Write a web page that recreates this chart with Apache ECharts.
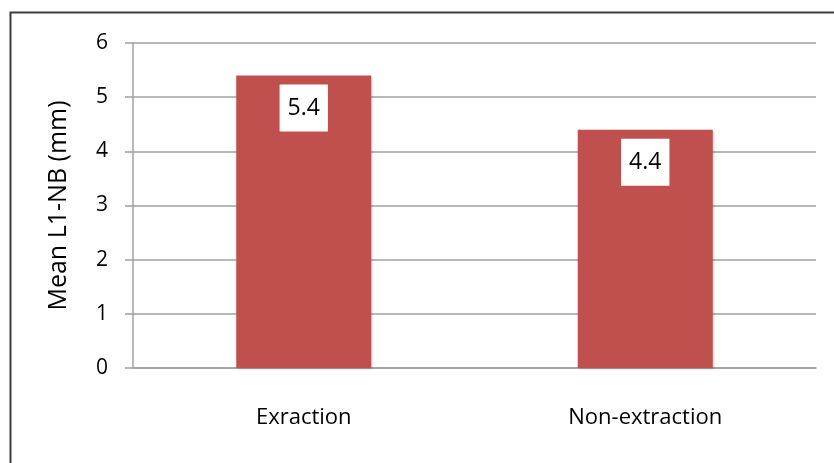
<!DOCTYPE html>
<html>
<head>
<meta charset="utf-8">
<script src="https://cdn.jsdelivr.net/npm/echarts@6/dist/echarts.min.js"></script>
<style>
  html, body { margin: 0; padding: 0; background: #fff; }
  #chart { width: 834px; height: 463px; }
</style>
</head>
<body>
<div id="chart"></div>
<script>
// data
var categories = ["Exraction", "Non-extraction"];
var meanValues = [5.4, 4.4];
var yTicks = [0, 1, 2, 3, 4, 5, 6];

var gridColor = "#a0a0a0";
var fontName = "Open Sans";

var chart = echarts.init(document.getElementById("chart"), null, { renderer: "canvas" });

var option = {
  animation: false,
  backgroundColor: "#fff",
  grid: {
    left: 133,
    right: 18,
    top: 43,
    bottom: 95,
    containLabel: false
  },
  // frame around the figure (cut by the page edge on right and bottom)
  graphic: [
    {
      type: "rect",
      left: 8,
      top: 10,
      shape: { width: 900, height: 520 },
      style: { fill: "none", stroke: "#3c3c3c", lineWidth: 2 },
      z: 100
    }
  ],
  xAxis: {
    type: "category",
    data: categories,
    axisLine: { show: true, lineStyle: { color: gridColor, width: 1.5 } },
    axisTick: { show: false },
    axisLabel: {
      margin: 39,
      fontSize: 22,
      fontFamily: fontName,
      color: "#000"
    }
  },
  yAxis: {
    type: "value",
    min: yTicks[0],
    max: yTicks[yTicks.length - 1],
    interval: 1,
    name: "Mean L1-NB (mm)",
    nameLocation: "middle",
    nameGap: 62,
    nameTextStyle: { fontSize: 25, fontFamily: fontName, color: "#000" },
    axisLine: { show: true, lineStyle: { color: gridColor, width: 1.5 } },
    axisTick: { show: true, length: 8, lineStyle: { color: gridColor, width: 1.5 } },
    axisLabel: {
      margin: 25,
      fontSize: 21,
      fontFamily: fontName,
      color: "#000"
    },
    splitLine: { show: true, lineStyle: { color: gridColor, width: 1.5 } }
  },
  series: [
    {
      type: "bar",
      data: meanValues,
      barWidth: 135,
      itemStyle: {
        color: "#c0504d",
        shadowColor: "rgba(0,0,0,0.25)",
        shadowBlur: 3,
        shadowOffsetX: 1,
        shadowOffsetY: 1
      },
      label: {
        show: true,
        position: "insideTop",
        distance: 9,
        backgroundColor: "#fff",
        padding: [12, 8],
        fontSize: 23,
        fontFamily: fontName,
        color: "#000"
      }
    }
  ]
};

chart.setOption(option);
</script>
</body>
</html>
